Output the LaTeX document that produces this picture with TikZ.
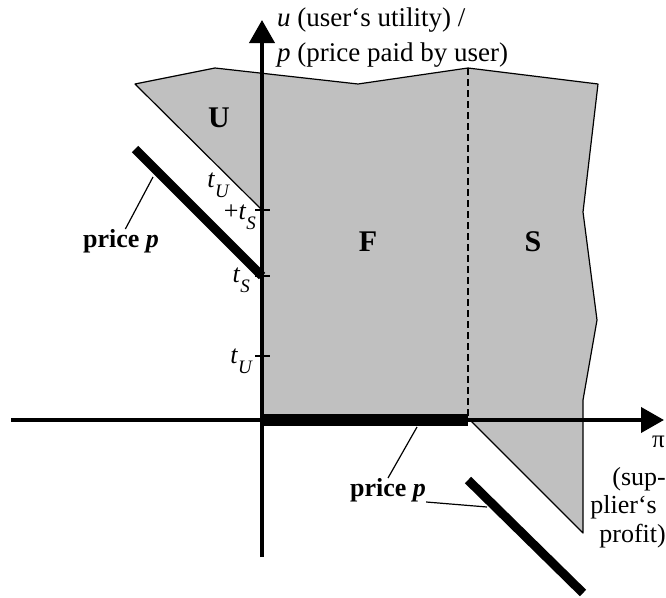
\documentclass[tikz,border=0pt]{standalone}
\usepackage{fontspec}
\setmainfont{Liberation Serif}
\usetikzlibrary{arrows.meta}
\definecolor{shade}{RGB}{192,192,192}
\newcommand{\tvar}[1]{\textit{t}\raisebox{-0.42em}{\fontsize{19}{19}\selectfont\textit{#1}}}
\begin{document}
\begin{tikzpicture}[x=1pt,y=-1pt,
  lab/.style={inner sep=0pt, font=\fontsize{26}{35}\selectfont},
  region/.style={inner sep=0pt, font=\fontsize{30}{30}\selectfont\bfseries},
  axis/.style={line width=4pt, -{Triangle[length=23pt,width=25pt]}},
  thickbar/.style={line width=9pt},
  pointer/.style={line width=1.2pt},
  tick/.style={line width=1.3pt}]
\useasboundingbox (0,0) rectangle (666,597);
% region
\filldraw[fill=shade, draw=black, line width=1.2pt, line join=round]
  (262,210) -- (135,84) -- (215,68) -- (358,84) -- (468,68) -- (598,84)
  -- (583,212) -- (597,320) -- (583,400) -- (583,533) -- (470,420) -- (262,420) -- cycle;
\draw[line width=1.3pt, dash pattern=on 7pt off 4pt] (468,68) -- (468,420);
% axes
\coordinate (xs) at (11,420);
\coordinate (xe) at (664,420);
\coordinate (ys) at (262,557);
\coordinate (ye) at (262,20);
\draw[axis] (xs) -- (xe);
\draw[axis] (ys) -- (ye);
% ticks
\foreach \yy in {210,276,356} \draw[tick] (255,\yy) -- (270,\yy);
% thick price lines
\coordinate (a1) at (135,149);
\coordinate (a2) at (262,276);
\coordinate (b1) at (262,420);
\coordinate (b2) at (468,420);
\coordinate (c1) at (468,480);
\coordinate (c2) at (583,593);
\draw[thickbar] (a1) -- (a2);
\draw[line width=12pt] (b1) -- (b2);
\draw[thickbar] (c1) -- (c2);
% labels
\node[lab, anchor=north west, align=left, font=\fontsize{27}{35}\selectfont] (ylab) at (277,8)
  {\textit{u} (user‘s utility) /\\\textit{p} (price paid by user)};
\node[lab, anchor=base east, font=\fontsize{25}{25}\selectfont] (pi) at (665,447) {π};
\node[lab, anchor=base east, align=right, font=\fontsize{26}{28.5}\selectfont] (xlab) at (666,542)
  {(sup-\\plier‘s\hspace*{9pt}\mbox{}\\profit)};
\node[region] (U) at (219,118) {U};
\node[region] (F) at (368,242) {F};
\node[region] (S) at (533,242) {S};
\node[lab, anchor=base east] (t1) at (230,187) {\tvar{U}};
\node[lab, anchor=base east] (t2) at (256,219) {+\tvar{S}};
\node[lab, anchor=base east] (t3) at (250,282) {\tvar{S}};
\node[lab, anchor=base east] (t4) at (253,363) {\tvar{U}};
\node[lab, font=\fontsize{26}{26}\selectfont\bfseries] (p1) at (121,241) {price \textit{p}};
\node[lab, font=\fontsize{26}{26}\selectfont\bfseries] (p2) at (388,490) {price \textit{p}};
% pointers
\coordinate (p1tip) at (153,177);
\coordinate (p2tipa) at (417,427);
\coordinate (p2tipb) at (487,507);
\draw[pointer] (p1.70) -- (p1tip);
\draw[pointer] (p2.north) -- (p2tipa);
\draw[pointer] (p2.south east) -- (p2tipb);
\end{tikzpicture}
\end{document}
